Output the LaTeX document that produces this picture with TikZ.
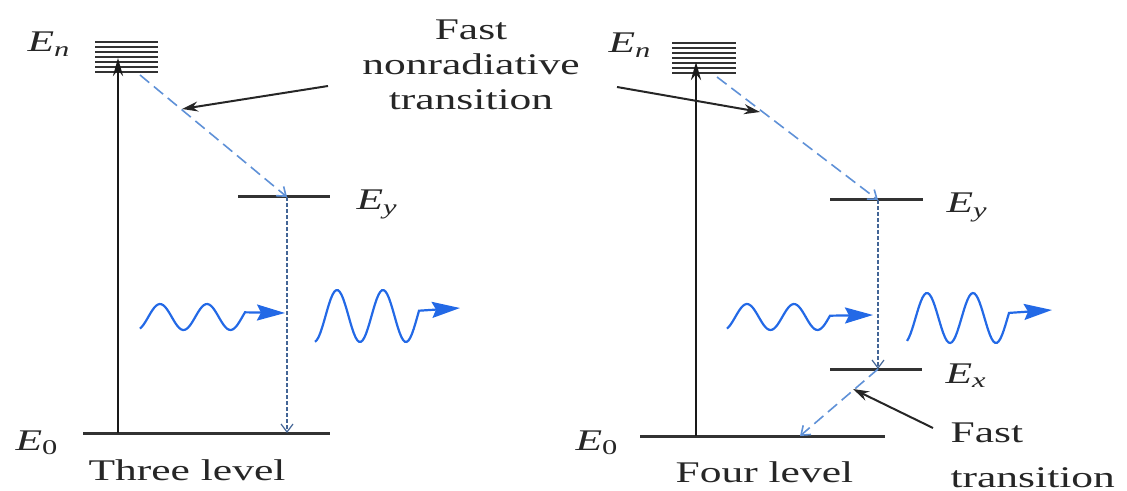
\documentclass[tikz,border=0pt]{standalone}
\usepackage{fontspec}
\setmainfont{Liberation Serif}
\usetikzlibrary{arrows.meta, positioning}
\definecolor{levgray}{RGB}{50,50,50}
\definecolor{decayblue}{RGB}{95,145,215}
\definecolor{photonblue}{RGB}{35,105,230}
\newcommand{\lev}[1]{\textit{E}\textsubscript{\textit{#1}}}
\newcommand{\levnum}[1]{\textit{E}\textsubscript{#1}}
\tikzset{
  % energy levels
  level/.style={draw=levgray, line width=1.5pt},
  bandline/.style={draw=levgray, line width=1.1pt},
  % arrows
  pumparrow/.style={-{Stealth[length=9pt, width=5pt]}, draw=black!90, line width=1.3pt},
  pointer/.style={-{Stealth[length=8pt, width=5pt]}, draw=black!85, line width=1pt},
  decayarrow/.style={-{Straight Barb[length=4pt, width=6pt]}, draw=decayblue, line width=0.8pt, dash pattern=on 6pt off 3pt},
  dropline/.style={-{Straight Barb[length=4pt, width=6pt]}, draw=decayblue!70!black, line width=0.6pt, dash pattern=on 2pt off 1pt},
  photon/.style={draw=photonblue, line width=1.1pt, -{Stealth[length=14pt, width=8pt, inset=2pt]}},
  % text
  lbl/.style={font=\fontsize{15}{17.5}\selectfont, xscale=1.45, inner sep=0pt, text=black!85}
}
\begin{document}
\begin{tikzpicture}[x=0.5pt, y=-0.5pt]
  \useasboundingbox (0,0) rectangle (1127,491);

  % Three level
  \foreach \y in {42,47,...,72} \draw[bandline] (95,\y) -- (158,\y);
  \draw[level] (238,197) -- (330,197);
  \draw[level] (83,433) -- (330,433);
  \coordinate (lpump) at (118,433);
  \coordinate (lband) at (118,58);
  \coordinate (lnrs) at (140,75);
  \coordinate (ly) at (287,197);
  \coordinate (lg) at (287,433);
  \draw[pumparrow] (lpump) -- (lband);
  \draw[decayarrow] (lnrs) -- (ly);
  \draw[dropline] (ly) -- (lg);

  \node[lbl, anchor=base west] (lEn) at (27,52) {\lev{n}};
  \node[lbl, anchor=base west] (lEy) at (356,210) {\lev{y}};
  \node[lbl, anchor=base west] (lE0) at (15,450) {\levnum{0}};
  \node[lbl, anchor=base west] (lname) at (88,480) {Three level};

  % photons
  \draw[photon] plot[domain=140:245, samples=60] (\x, {317-13*cos((\x-160)/47*360)}) -- (285,313);
  \draw[photon] plot[domain=315:419, samples=60] (\x, {316-26*cos((\x-337)/46*360)}) -- (460,308);

  % Four level
  \foreach \y in {43,48,...,75} \draw[bandline] (672,\y) -- (736,\y);
  \draw[level] (830,200) -- (923,200);
  \draw[level] (830,369) -- (922,369);
  \draw[level] (640,436) -- (885,436);
  \coordinate (rpump) at (696,436);
  \coordinate (rband) at (696,62);
  \coordinate (rnrs) at (717,77);
  \coordinate (ry) at (878,200);
  \coordinate (rx) at (878,369);
  \coordinate (rg) at (800,436);
  \draw[pumparrow] (rpump) -- (rband);
  \draw[decayarrow] (rnrs) -- (ry);
  \draw[dropline] (ry) -- (rx);
  \draw[decayarrow] (rx) -- (rg);

  \node[lbl, anchor=base west] (rEn) at (608,53) {\lev{n}};
  \node[lbl, anchor=base west] (rEy) at (946,213) {\lev{y}};
  \node[lbl, anchor=base west] (rEx) at (945,383) {\lev{x}};
  \node[lbl, anchor=base west] (rE0) at (575,450) {\levnum{0}};
  \node[lbl, anchor=base west] (rname) at (675,482) {Four level};

  \draw[photon] plot[domain=727:830, samples=60] (\x, {317-13*cos((\x-747)/47*360)}) -- (873,315);
  \draw[photon] plot[domain=907:1009, samples=60] (\x, {318-25*cos((\x-927)/46*360)}) -- (1052,310);

  % Callouts
  \node[lbl, align=center] (nonrad) at (471,65) {Fast\\nonradiative\\transition};
  \coordinate (nrtipl) at (182,109);
  \coordinate (nrtipr) at (760,112);
  \draw[pointer] (328,86) coordinate (nrfroml) -- (nrtipl);
  \draw[pointer] (617,87) coordinate (nrfromr) -- (nrtipr);

  \node[lbl, align=left, anchor=west, font=\fontsize{15}{22.5}\selectfont] (fast) at (950,455) {Fast\\transition};
  \coordinate (fasttip) at (853,389);
  \draw[pointer] (933,428) coordinate (fastfrom) -- (fasttip);
\end{tikzpicture}
\end{document}
